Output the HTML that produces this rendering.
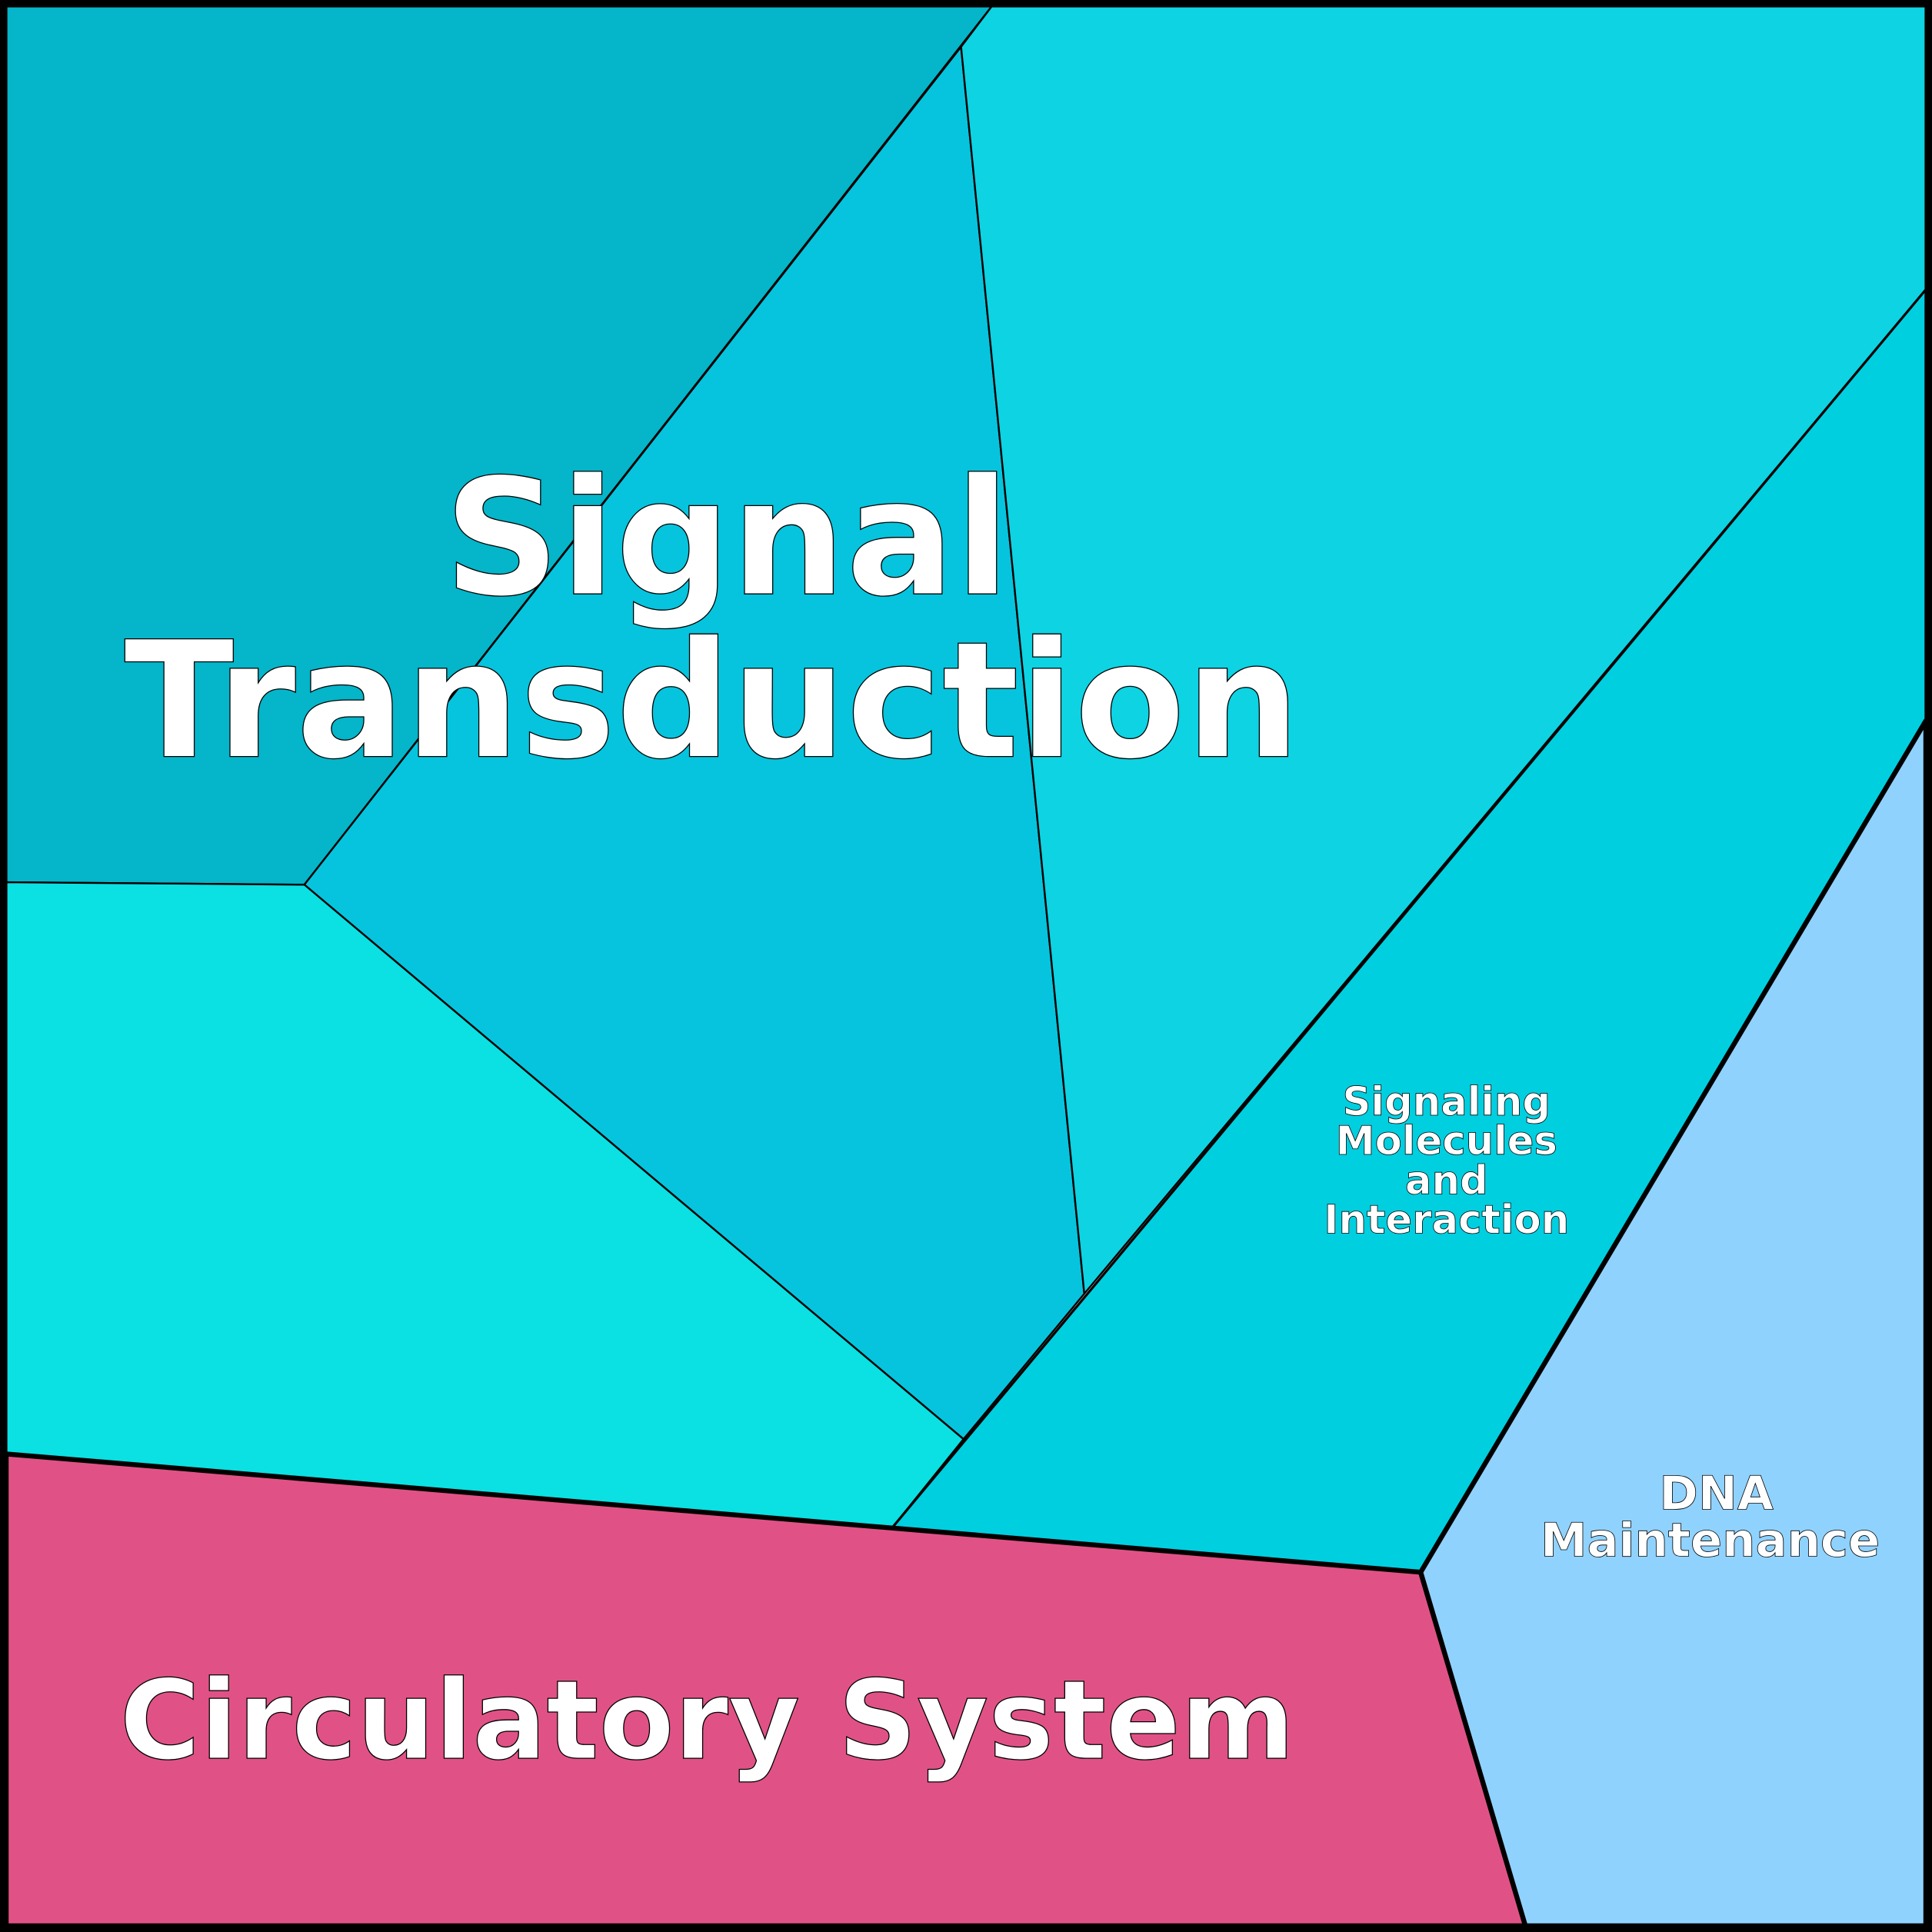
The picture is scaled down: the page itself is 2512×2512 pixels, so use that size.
<!DOCTYPE html>
<html><head><meta charset="utf-8"><style>html,body{margin:0;padding:0;background:#fff}svg{display:block}</style></head>
<body>
<svg width="2512" height="2512" viewBox="0 0 1568 1568" xmlns="http://www.w3.org/2000/svg">
<g stroke="#000" stroke-width="1.5" stroke-linejoin="round">
<polygon points="5,5 805,5 247,718 5,716" fill="#05b5c9"/>
<polygon points="780,38 880,1050 782,1168 247,718" fill="#06c4dd"/>
<polygon points="805,5 1563,5 1563,235 880,1050 780,38" fill="#0dd3e3"/>
<polygon points="5,716 247,718 782,1168 724,1240 5,1180" fill="#0be0e3"/>
<polygon points="1563,235 1563,585 1153,1276 724,1240" fill="#00cfe0" stroke-width="2"/>
<polygon points="5,1180 1153,1276 1238,1563 5,1563" fill="#e05285" stroke-width="4"/>
<polygon points="1153,1276 1563,585 1563,1563 1238,1563" fill="#90d2fe" stroke-width="4"/>
</g>
<rect x="3" y="3" width="1562" height="1562" fill="none" stroke="#000" stroke-width="6"/>
<g font-family="'DejaVu Sans','Liberation Sans',sans-serif" font-weight="bold" fill="#fff" stroke="#000" stroke-width="0.8" text-anchor="middle">
<text x="590" y="482" font-size="131">Signal</text>
<text x="578" y="614" font-size="131">Transduction</text>
<text x="574" y="1427" font-size="89">Circulatory System</text>
<text x="1174" y="905" font-size="32" stroke-width="0.5">Signaling</text>
<text x="1174" y="937" font-size="32" stroke-width="0.5">Molecules</text>
<text x="1174" y="969" font-size="32" stroke-width="0.5">and</text>
<text x="1174" y="1001" font-size="32" stroke-width="0.5">Interaction</text>
<text x="1393" y="1225" font-size="38" stroke-width="0.5">DNA</text>
<text x="1388" y="1263" font-size="38" stroke-width="0.5">Maintenance</text>
</g>
</svg>
</body></html>
